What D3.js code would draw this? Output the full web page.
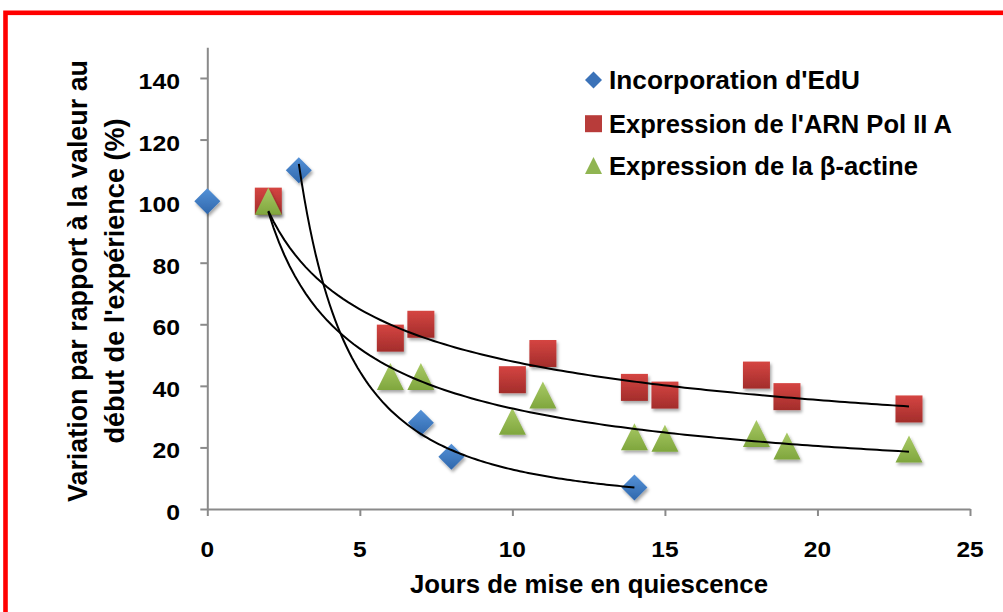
<!DOCTYPE html>
<html><head><meta charset="utf-8">
<script src="https://cdn.jsdelivr.net/npm/d3@7"></script>
<style>
body{margin:0;background:#fff}
svg{display:block}
text{font-family:"Liberation Sans",Arial,sans-serif;font-weight:bold;fill:#000}
</style>
</head><body>
<svg id="c" width="1003" height="612"></svg>
<script>
// ---- data ----
const seriesNames = ["Incorporation d'EdU", "Expression de l'ARN Pol II A", "Expression de la β-actine"];
const eduX = [0, 3, 7, 8, 14];
const eduY = [100, 110, 28, 17, 7];
const polX = [2, 6, 7, 10, 11, 14, 15, 18, 19, 23];
const polY = [100, 55.5, 60, 42, 50.5, 39.5, 37, 43.5, 36.5, 32.5];
const actX = [2, 6, 7, 10, 11, 14, 15, 18, 19, 23];
const actY = [100, 43, 43, 28.5, 37, 23.5, 23, 24.5, 20.5, 19.5];
const xTicks = [0, 5, 10, 15, 20, 25];
const yTicks = [0, 20, 40, 60, 80, 100, 120, 140];
const xTitle = "Jours de mise en quiescence";
const yTitle = ["Variation par rapport à la valeur au", "début de l'expérience (%)"];

// ---- setup ----
const svg = d3.select("#c");
const x = d3.scaleLinear().domain([0, 25]).range([207.3, 970]);
const y = d3.scaleLinear().domain([0, 150]).range([509, 47.2]);

const defs = svg.append("defs");
function grad(id, c1, c2) {
  const g = defs.append("linearGradient").attr("id", id).attr("x1", 0).attr("y1", 0).attr("x2", 0).attr("y2", 1);
  g.append("stop").attr("offset", "0%").attr("stop-color", c1);
  g.append("stop").attr("offset", "100%").attr("stop-color", c2);
}
grad("gBlue", "#5592d8", "#2f67ac");
grad("gRed", "#d54542", "#a32d2b");
grad("gGreen", "#a9ca66", "#7fa63d");
const f = defs.append("filter").attr("id", "sh").attr("x", "-50%").attr("y", "-50%").attr("width", "200%").attr("height", "200%");
f.append("feDropShadow").attr("dx", 1.5).attr("dy", 2.5).attr("stdDeviation", 1.6)
  .attr("flood-color", "#000").attr("flood-opacity", 0.35);

// red frame
svg.append("rect").attr("x", 5.5).attr("y", 12.8).attr("width", 1100).attr("height", 700)
  .attr("fill", "none").attr("stroke", "#ff0000").attr("stroke-width", 4.6);

// ---- axes ----
const axisColor = "#8a8a8a";
const gx = svg.append("g").attr("transform", `translate(0,${y(0)})`)
  .call(d3.axisBottom(x).tickValues(xTicks).tickSize(7).tickSizeOuter(0).tickFormat(""));
const gy = svg.append("g").attr("transform", `translate(${x(0)},0)`)
  .call(d3.axisLeft(y).tickValues(yTicks).tickSize(7).tickSizeOuter(0).tickFormat(""));
[gx, gy].forEach(g => {
  g.selectAll("path,line").attr("stroke", axisColor).attr("stroke-width", 2);
});

// tick labels
svg.append("g").selectAll("text").data(xTicks).join("text")
  .attr("x", d => x(d)).attr("y", 557).attr("text-anchor", "middle")
  .attr("font-size", 22.5)
  .attr("textLength", d => String(d).length * 13.6).attr("lengthAdjust", "spacingAndGlyphs")
  .text(d => d);
svg.append("g").selectAll("text").data(yTicks).join("text")
  .attr("x", 180).attr("y", d => y(d) + 11).attr("text-anchor", "end")
  .attr("font-size", 22.5)
  .attr("textLength", d => String(d).length * 13.8).attr("lengthAdjust", "spacingAndGlyphs")
  .text(d => d);

// axis titles
svg.append("text").attr("x", 589).attr("y", 593).attr("text-anchor", "middle")
  .attr("font-size", 26).attr("textLength", 358).attr("lengthAdjust", "spacingAndGlyphs")
  .text(xTitle);
const yLens = [442, 325];
const yBase = [87, 124];
yTitle.forEach((t, i) => {
  svg.append("text").attr("transform", `translate(${yBase[i]},281) rotate(-90)`)
    .attr("text-anchor", "middle").attr("font-size", 27.5)
    .attr("textLength", yLens[i]).attr("lengthAdjust", "spacingAndGlyphs")
    .text(t);
});

// ---- markers ----
const sym = {
  diamond: s => `M0,${-s / 2}L${s / 2},0L0,${s / 2}L${-s / 2},0Z`,
  square: s => `M${-s / 2},${-s / 2}h${s}v${s}h${-s}Z`,
  triangle: s => `M0,${-s / 2}L${s / 2},${s / 2}L${-s / 2},${s / 2}Z`
};
const series = [
  {xs: eduX, ys: eduY, shape: "diamond", size: 26, fill: "url(#gBlue)", legFill: "#3b72b8"},
  {xs: polX, ys: polY, shape: "square", size: 27, fill: "url(#gRed)", legFill: "#b83c3a"},
  {xs: actX, ys: actY, shape: "triangle", size: 27, fill: "url(#gGreen)", legFill: "#90b552"}
];
const mg = svg.append("g");
series.forEach(s => {
  mg.append("g").selectAll("path").data(s.xs.map((v, i) => [v, s.ys[i]])).join("path")
    .attr("d", sym[s.shape](s.size))
    .attr("transform", d => `translate(${x(d[0])},${y(d[1])})`)
    .attr("fill", s.fill).attr("filter", "url(#sh)");
});

// ---- power trendlines ----
function powerFit(xs, ys) {
  const pts = xs.map((v, i) => [v, ys[i]]).filter(p => p[0] > 0 && p[1] > 0);
  const lx = pts.map(p => Math.log(p[0])), ly = pts.map(p => Math.log(p[1]));
  const mx = d3.mean(lx), my = d3.mean(ly);
  const b = d3.sum(lx, (v, i) => (v - mx) * (ly[i] - my)) / d3.sum(lx, v => (v - mx) ** 2);
  const a = Math.exp(my - b * mx);
  return {a, b, x0: d3.min(pts, p => p[0]), x1: d3.max(pts, p => p[0])};
}
const line = d3.line().x(d => x(d[0])).y(d => y(d[1]));
series.forEach(s => {
  const fit = powerFit(s.xs, s.ys);
  const n = 120;
  const pts = d3.range(n + 1).map(i => {
    const xv = fit.x0 + (fit.x1 - fit.x0) * i / n;
    return [xv, fit.a * Math.pow(xv, fit.b)];
  });
  svg.append("path").datum(pts).attr("d", line)
    .attr("fill", "none").attr("stroke", "#000").attr("stroke-width", 2);
});

// ---- legend ----
const legRows = [80, 123.7, 165.5];
const legLens = [251, 343, 309];
const lg = svg.append("g");
series.forEach((s, i) => {
  lg.append("path").attr("d", sym[s.shape](17))
    .attr("transform", `translate(593.5,${legRows[i]})`).attr("fill", s.legFill);
  lg.append("text").attr("x", 609).attr("y", legRows[i] + 9)
    .attr("font-size", 25).attr("textLength", legLens[i]).attr("lengthAdjust", "spacingAndGlyphs")
    .text(seriesNames[i]);
});
</script>
</body></html>
